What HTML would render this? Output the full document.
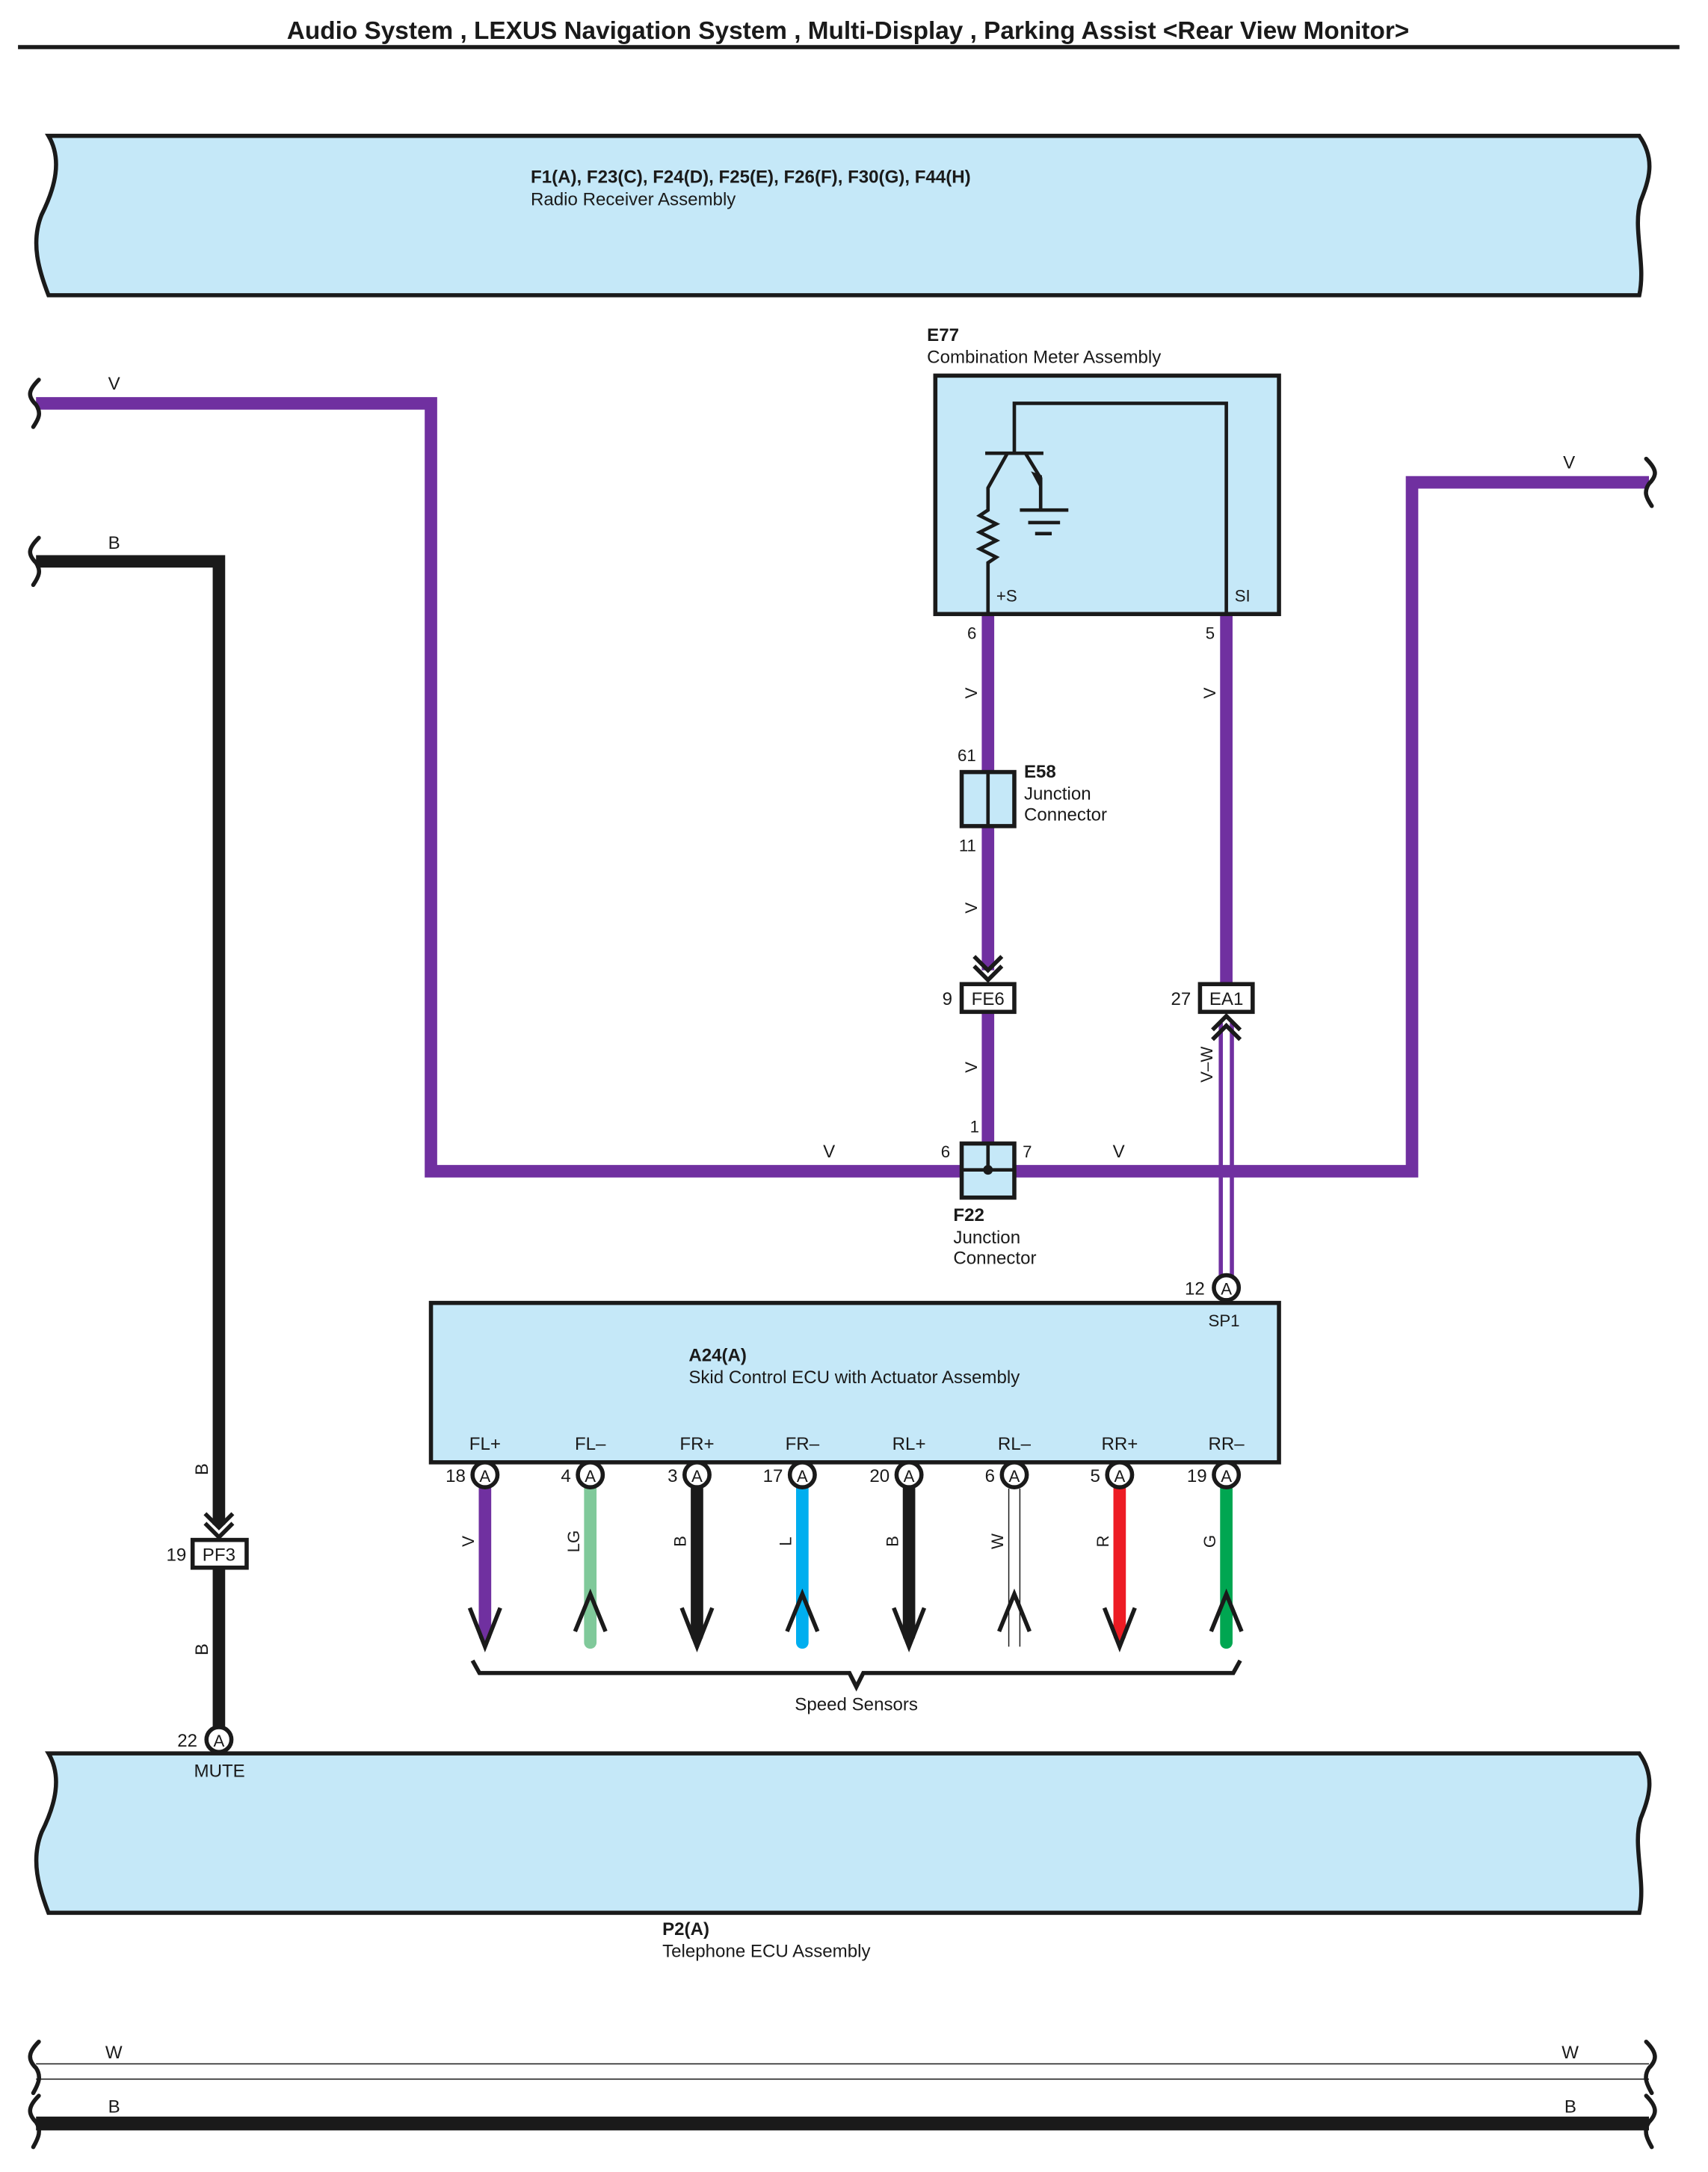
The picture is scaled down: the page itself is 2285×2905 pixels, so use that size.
<!DOCTYPE html>
<html><head><meta charset="utf-8"><style>
html,body{margin:0;padding:0;background:#fff;}
svg{display:block;}
text{font-family:"Liberation Sans",Arial,sans-serif;fill:#1a1a1a;}
</style></head><body>
<svg width="2285" height="2905" viewBox="0 0 1232.6 1567" preserveAspectRatio="none" xmlns="http://www.w3.org/2000/svg">
<text x="612" y="28" font-size="18" font-weight="bold" text-anchor="middle">Audio System , LEXUS Navigation System , Multi-Display , Parking Assist &lt;Rear View Monitor&gt;</text>
<line x1="13" y1="34" x2="1212" y2="34" stroke="#1a1a1a" stroke-width="3"/>

<path d="M35,98 L1183,98 C1195,115 1190,130 1184,145 C1178,165 1188,190 1183,213 L35,213 C28,195 22,175 30,155 C40,135 45,115 35,98 Z" fill="#c5e8f8" stroke="#1a1a1a" stroke-width="3"/>
<text x="383" y="132" font-size="13" font-weight="bold">F1(A), F23(C), F24(D), F25(E), F26(F), F30(G), F44(H)</text>
<text x="383" y="148" font-size="13">Radio Receiver Assembly</text>

<path d="M35,1265 L1183,1265 C1195,1282 1190,1297 1184,1312 C1178,1332 1188,1357 1183,1380 L35,1380 C28,1362 22,1342 30,1322 C40,1302 45,1282 35,1265 Z" fill="#c5e8f8" stroke="#1a1a1a" stroke-width="3"/>
<text x="478" y="1396" font-size="13" font-weight="bold">P2(A)</text>
<text x="478" y="1412" font-size="13">Telephone ECU Assembly</text>

<g fill="none" stroke="#7030a0" stroke-width="9">
<polyline points="26,291 311,291 311,845 713,845"/>
<polyline points="713,845 1019,845 1019,348 1190,348"/>
<line x1="713" y1="443" x2="713" y2="700"/>
<line x1="713" y1="730" x2="713" y2="825"/>
<line x1="885" y1="443" x2="885" y2="710"/>
</g>
<g fill="none" stroke="#1a1a1a" stroke-width="3" stroke-linecap="round">
<path d="M28,274 C20,282 20,286 26,292 C30,298 28,302 24,308"/>
<path d="M28,388 C20,396 20,400 26,406 C30,412 28,416 24,422"/>
<path d="M1188,331 C1196,339 1196,343 1190,349 C1186,355 1188,359 1192,365"/>
<path d="M28,1473 C20,1481 20,1486 26,1492 C30,1498 28,1503 24,1510"/>
<path d="M28,1512 C20,1520 20,1525 26,1531 C30,1537 28,1542 24,1549"/>
<path d="M1188,1473 C1196,1481 1196,1486 1190,1492 C1186,1498 1188,1503 1192,1510"/>
<path d="M1188,1512 C1196,1520 1196,1525 1190,1531 C1186,1537 1188,1542 1192,1549"/>
</g>
<text x="78" y="281" font-size="13">V</text>
<text x="1128" y="338" font-size="13">V</text>
<text x="594" y="835" font-size="13">V</text>
<text x="803" y="835" font-size="13">V</text>

<polyline points="26,405 158,405 158,1100" fill="none" stroke="#1a1a1a" stroke-width="9"/>
<line x1="158" y1="1131" x2="158" y2="1248" stroke="#1a1a1a" stroke-width="9"/>
<text x="78" y="396" font-size="13">B</text>
<text x="150" y="1060" font-size="13" transform="rotate(-90 150 1060)" text-anchor="middle">B</text>
<text x="150" y="1190" font-size="13" transform="rotate(-90 150 1190)" text-anchor="middle">B</text>
<path d="M148,1092 L158,1102 L168,1092 M148,1099 L158,1109 L168,1099" fill="none" stroke="#1a1a1a" stroke-width="3"/>
<rect x="139" y="1111" width="39" height="20" fill="#fff" stroke="#1a1a1a" stroke-width="3"/>
<text x="158" y="1126" font-size="13" text-anchor="middle">PF3</text>
<text x="120" y="1126" font-size="13">19</text>
<circle cx="158" cy="1255" r="9" fill="#fff" stroke="#1a1a1a" stroke-width="3"/>
<text x="158" y="1260" font-size="12" text-anchor="middle">A</text>
<text x="128" y="1260" font-size="13">22</text>
<text x="140" y="1282" font-size="13">MUTE</text>

<text x="669" y="246" font-size="13" font-weight="bold">E77</text>
<text x="669" y="262" font-size="13">Combination Meter Assembly</text>
<rect x="675" y="271" width="248" height="172" fill="#c5e8f8" stroke="#1a1a1a" stroke-width="3"/>
<g fill="none" stroke="#1a1a1a" stroke-width="2.5">
<polyline points="732,327 732,291 885,291 885,443"/>
<line x1="711" y1="327" x2="753" y2="327"/>
<polyline points="727,327 713,352 713,368 707,372 719,378 707,384 719,390 707,396 719,402 713,406 713,443"/>
<polyline points="740,327 751,345 751,368"/>
<line x1="736" y1="368" x2="771" y2="368"/>
<line x1="742" y1="377" x2="765" y2="377"/>
<line x1="747" y1="385" x2="759" y2="385"/>
</g>
<path d="M744,340 L752,343 L751,353 Z" fill="#1a1a1a"/>
<text x="719" y="434" font-size="12">+S</text>
<text x="891" y="434" font-size="12">SI</text>
<text x="698" y="461" font-size="12">6</text>
<text x="870" y="461" font-size="12">5</text>
<text x="705" y="500" font-size="12" transform="rotate(-90 705 500)" text-anchor="middle">V</text>
<text x="877" y="500" font-size="12" transform="rotate(-90 877 500)" text-anchor="middle">V</text>

<rect x="694" y="557" width="38" height="39" fill="#c5e8f8" stroke="#1a1a1a" stroke-width="3"/>
<line x1="713" y1="557" x2="713" y2="596" stroke="#1a1a1a" stroke-width="2.5"/>
<text x="691" y="549" font-size="12">61</text>
<text x="692" y="614" font-size="12">11</text>
<text x="739" y="561" font-size="13" font-weight="bold">E58</text>
<text x="739" y="577" font-size="13">Junction</text>
<text x="739" y="592" font-size="13">Connector</text>
<text x="705" y="655" font-size="12" transform="rotate(-90 705 655)" text-anchor="middle">V</text>

<path d="M703,690 L713,700 L723,690 M703,697 L713,707 L723,697" fill="none" stroke="#1a1a1a" stroke-width="3"/>
<rect x="694" y="710" width="38" height="20" fill="#fff" stroke="#1a1a1a" stroke-width="3"/>
<text x="713" y="725" font-size="13" text-anchor="middle">FE6</text>
<text x="680" y="725" font-size="13">9</text>
<text x="705" y="770" font-size="12" transform="rotate(-90 705 770)" text-anchor="middle">V</text>

<rect x="866" y="710" width="38" height="20" fill="#fff" stroke="#1a1a1a" stroke-width="3"/>
<text x="885" y="725" font-size="13" text-anchor="middle">EA1</text>
<text x="845" y="725" font-size="13">27</text>
<line x1="881" y1="738" x2="881" y2="920" stroke="#7030a0" stroke-width="3"/>
<line x1="889" y1="738" x2="889" y2="920" stroke="#7030a0" stroke-width="3"/>
<path d="M875,743 L885,733 L895,743 M875,750 L885,740 L895,750" fill="none" stroke="#1a1a1a" stroke-width="3"/>
<text x="875" y="768" font-size="12" transform="rotate(-90 875 768)" text-anchor="middle">V–W</text>
<circle cx="885" cy="929" r="9" fill="#fff" stroke="#1a1a1a" stroke-width="3"/>
<text x="885" y="934" font-size="12" text-anchor="middle">A</text>
<text x="855" y="934" font-size="13">12</text>

<rect x="694" y="825" width="38" height="39" fill="#c5e8f8" stroke="#1a1a1a" stroke-width="3"/>
<line x1="713" y1="825" x2="713" y2="844" stroke="#1a1a1a" stroke-width="2.5"/>
<line x1="694" y1="844" x2="732" y2="844" stroke="#1a1a1a" stroke-width="2.5"/>
<circle cx="713" cy="844" r="3.5" fill="#1a1a1a"/>
<text x="700" y="817" font-size="12">1</text>
<text x="679" y="835" font-size="12">6</text>
<text x="738" y="835" font-size="12">7</text>
<text x="688" y="881" font-size="13" font-weight="bold">F22</text>
<text x="688" y="897" font-size="13">Junction</text>
<text x="688" y="912" font-size="13">Connector</text>

<rect x="311" y="940" width="612" height="115" fill="#c5e8f8" stroke="#1a1a1a" stroke-width="3"/>
<text x="872" y="957" font-size="12">SP1</text>
<text x="497" y="982" font-size="13" font-weight="bold">A24(A)</text>
<text x="497" y="998" font-size="13">Skid Control ECU with Actuator Assembly</text>
<g font-size="13" text-anchor="middle">
<text x="350" y="1046">FL+</text><text x="426" y="1046">FL–</text><text x="503" y="1046">FR+</text><text x="579" y="1046">FR–</text>
<text x="656" y="1046">RL+</text><text x="732" y="1046">RL–</text><text x="808" y="1046">RR+</text><text x="885" y="1046">RR–</text>
</g>
<g stroke-width="9" stroke-linecap="round" fill="none">
<line x1="350" y1="1074" x2="350" y2="1180" stroke="#7030a0"/>
<line x1="426" y1="1074" x2="426" y2="1185" stroke="#80c99a"/>
<line x1="503" y1="1074" x2="503" y2="1180" stroke="#1a1a1a"/>
<line x1="579" y1="1074" x2="579" y2="1185" stroke="#00aeef"/>
<line x1="656" y1="1074" x2="656" y2="1180" stroke="#1a1a1a"/>
<line x1="808" y1="1074" x2="808" y2="1180" stroke="#ed1c24"/>
<line x1="885" y1="1074" x2="885" y2="1185" stroke="#00a651"/>
</g>
<line x1="728" y1="1074" x2="728" y2="1188" stroke="#1a1a1a" stroke-width="0.8"/>
<line x1="736" y1="1074" x2="736" y2="1188" stroke="#1a1a1a" stroke-width="0.8"/>
<g fill="none" stroke="#1a1a1a" stroke-width="3">
<path d="M339,1160 L350,1188 L361,1160"/>
<path d="M492,1160 L503,1188 L514,1160"/>
<path d="M645,1160 L656,1188 L667,1160"/>
<path d="M797,1160 L808,1188 L819,1160"/>
<path d="M415,1177 L426,1150 L437,1177"/>
<path d="M568,1177 L579,1150 L590,1177"/>
<path d="M721,1177 L732,1150 L743,1177"/>
<path d="M874,1177 L885,1150 L896,1177"/>
<path d="M341,1198 L346,1207 L613,1207 L618,1217 L623,1207 L890,1207 L895,1198"/>
</g>
<g font-size="12" text-anchor="middle">
<text x="342" y="1112" transform="rotate(-90 342 1112)">V</text>
<text x="418" y="1112" transform="rotate(-90 418 1112)">LG</text>
<text x="495" y="1112" transform="rotate(-90 495 1112)">B</text>
<text x="571" y="1112" transform="rotate(-90 571 1112)">L</text>
<text x="648" y="1112" transform="rotate(-90 648 1112)">B</text>
<text x="724" y="1112" transform="rotate(-90 724 1112)">W</text>
<text x="800" y="1112" transform="rotate(-90 800 1112)">R</text>
<text x="877" y="1112" transform="rotate(-90 877 1112)">G</text>
</g>
<g fill="#fff" stroke="#1a1a1a" stroke-width="3">
<circle cx="350" cy="1064" r="9"/><circle cx="426" cy="1064" r="9"/><circle cx="503" cy="1064" r="9"/><circle cx="579" cy="1064" r="9"/>
<circle cx="656" cy="1064" r="9"/><circle cx="732" cy="1064" r="9"/><circle cx="808" cy="1064" r="9"/><circle cx="885" cy="1064" r="9"/>
</g>
<g font-size="12" text-anchor="middle">
<text x="350" y="1069">A</text><text x="426" y="1069">A</text><text x="503" y="1069">A</text><text x="579" y="1069">A</text>
<text x="656" y="1069">A</text><text x="732" y="1069">A</text><text x="808" y="1069">A</text><text x="885" y="1069">A</text>
</g>
<g font-size="13" text-anchor="end">
<text x="336" y="1069">18</text><text x="412" y="1069">4</text><text x="489" y="1069">3</text><text x="565" y="1069">17</text>
<text x="642" y="1069">20</text><text x="718" y="1069">6</text><text x="794" y="1069">5</text><text x="871" y="1069">19</text>
</g>
<text x="618" y="1234" font-size="13" text-anchor="middle">Speed Sensors</text>

<line x1="26" y1="1489" x2="1190" y2="1489" stroke="#1a1a1a" stroke-width="0.8"/>
<line x1="26" y1="1500" x2="1190" y2="1500" stroke="#1a1a1a" stroke-width="0.8"/>
<line x1="26" y1="1532" x2="1190" y2="1532" stroke="#1a1a1a" stroke-width="10"/>
<text x="76" y="1485" font-size="13">W</text>
<text x="1127" y="1485" font-size="13">W</text>
<text x="78" y="1524" font-size="13">B</text>
<text x="1129" y="1524" font-size="13">B</text>
</svg>
</body></html>
